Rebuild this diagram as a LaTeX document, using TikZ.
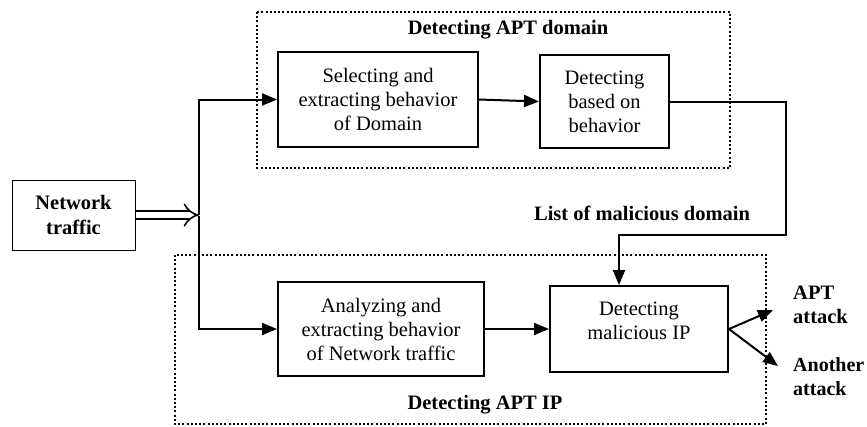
\documentclass[tikz,border=0pt]{standalone}
\usepackage{fontspec}
\setmainfont{Liberation Serif}
\usetikzlibrary{arrows.meta}
\begin{document}
\begin{tikzpicture}[x=1pt,y=-1pt,
  txt/.style={font=\fontsize{20.5}{24}\selectfont, align=center, inner sep=0pt},
  box/.style={draw, line width=2pt, inner sep=0pt, align=center,
    font=\fontsize{20.5}{24}\selectfont},
  region/.style={draw, line width=2pt, dash pattern=on 2pt off 2.2pt},
  arr/.style={line width=2pt, -{Triangle[length=15pt,width=12pt]}},
  lbl/.style={font=\fontsize{20.5}{24}\selectfont\bfseries, inner sep=0pt}]
\useasboundingbox (0,0) rectangle (867,426);
% regions
\draw[region] (257,12) rectangle (730,168);
\draw[region] (175,255) rectangle (766,424);
% boxes
\node[box, line width=1pt, minimum width=123pt, minimum height=70pt, font=\fontsize{20.5}{25}\selectfont\bfseries] (traffic) at (73.5,215) {Network\\traffic};
\node[box, minimum width=200pt, minimum height=95pt] (sel) at (378,99.5) {Selecting and\\extracting behavior\\of Domain};
\node[box, minimum width=129pt, minimum height=93pt] (det) at (604.5,101.5) {Detecting\\based on\\behavior};
\node[box, minimum width=206pt, minimum height=94pt] (ana) at (381,329) {Analyzing and\\extracting behavior\\of Network traffic};
\node[box, minimum width=178pt, minimum height=86pt] (mal) at (639,329) {};
\node[txt] (maltext) at (639,321) {Detecting\\malicious IP};
% labels
\node[lbl] (ldom) at (508,30) {Detecting APT domain};
\node[lbl] (lip) at (485,405) {Detecting APT IP};
\node[lbl] (llist) at (642,213) {List of malicious domain};
\node[lbl, align=left, anchor=west] (lapt) at (793,305) {APT\\attack};
\node[lbl, align=left, anchor=west, font=\fontsize{20}{24}\selectfont\bfseries] (lano) at (793,377) {Another\\attack};
% coordinates
\coordinate (split) at (199,215);
\coordinate (c1) at (786,235);
\coordinate (o1) at (773,310);
\coordinate (o2) at (778,366);
% connectors
\draw[double, line width=1.6pt, double distance=6.5pt, -{Implies[length=6pt]}] (traffic.east) -- (split);
\draw[arr] (split) |- (sel.west);
\draw[arr] ([yshift=-1pt]split) |- (ana.west);
\draw[arr] (sel.east) -- (det.west);
\draw[arr] (det.east) -| (c1) -| ([xshift=-20pt]mal.north);
\draw[arr] (ana.east) -- (mal.west);
\draw[arr] (mal.east) -- (o1);
\draw[arr] (mal.east) -- (o2);
\end{tikzpicture}
\end{document}
